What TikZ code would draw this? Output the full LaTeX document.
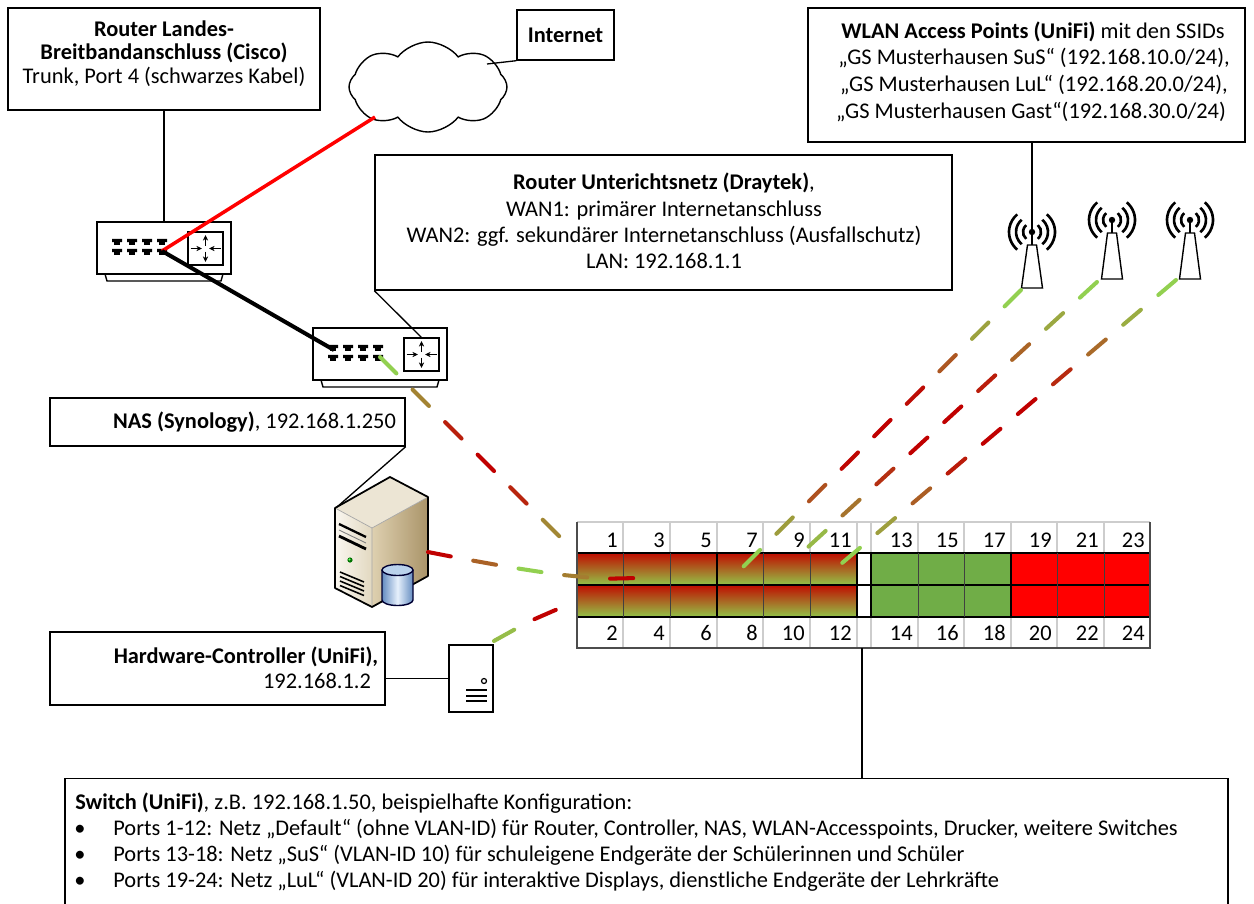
\documentclass[tikz,border=0pt]{standalone}
\usepackage{fontspec}
\setmainfont{Carlito}
\usetikzlibrary{shapes.symbols,decorations.markings,arrows.meta,calc}

\definecolor{dgreen}{RGB}{146,208,80}
\definecolor{dred}{RGB}{192,0,0}
\definecolor{swtop}{RGB}{192,12,0}
\definecolor{swbot}{RGB}{146,196,72}
\definecolor{vgreen}{RGB}{112,173,71}
\definecolor{vred}{RGB}{255,0,0}
\definecolor{gridgrey}{RGB}{205,205,205}
\definecolor{beigeL}{RGB}{250,247,240}
\definecolor{beigeM}{RGB}{226,216,192}
\definecolor{beigeT}{RGB}{236,229,212}
\definecolor{tanL}{RGB}{222,208,176}
\definecolor{tanD}{RGB}{170,148,105}
\definecolor{dbBlue}{RGB}{100,140,192}
\definecolor{dbLight}{RGB}{230,240,252}
\definecolor{dbTop}{RGB}{186,210,236}

% one dash of a colour-graded link; #1 = 0: green ends, red middle; #1 = 1: red ends, green middle
\newcommand{\gradmark}[1]{%
  \pgfmathsetmacro{\gpos}{\pgfkeysvalueof{/pgf/decoration/mark info/distance from start}/\pgfdecoratedpathlength}%
  \pgfmathsetmacro{\gdev}{abs(2*\gpos-1)}%
  \ifnum#1=0
    \pgfmathtruncatemacro{\gmix}{100*min(1,max(0,(\gdev-0.2)/0.65))}%
  \else
    \pgfmathtruncatemacro{\gmix}{100*min(1,max(0,(0.75-\gdev)/0.6))}%
  \fi
  \draw[line width=2.3pt, line cap=round, color=dgreen!\gmix!dred] (-6.6pt,0) -- (6.6pt,0);%
}

% router with eight ports and routing symbol, top-left corner at (#1,#2)
\newcommand{\routericon}[2]{%
  \begin{scope}[shift={(#1,#2)}]
    \draw[line width=0.8pt, fill=white] (0,0) rectangle (134,52);
    \draw[line width=0.8pt] (8,52) -- (10,59) -- (124,59) -- (126,52);
    \foreach \portx in {20,35,50,65}
      \foreach \porty in {20,30}
        \fill[shift={(\portx,\porty)}] (-5,-3.2) -- (5,-3.2) -- (5,0) -- (2.8,0) -- (2.8,2.8)
          -- (-2.8,2.8) -- (-2.8,0) -- (-5,0) -- cycle;
    \draw[line width=0.8pt] (91,10) rectangle (126,43);
    \draw[tip] (108.5,23.5) -- (108.5,13);
    \draw[tip] (108.5,29.5) -- (108.5,40);
    \draw[tip] (93.5,26.5) -- (105,26.5);
    \draw[tip] (123.5,26.5) -- (112,26.5);
  \end{scope}}

% access point antenna: x, y of the radiating dot, y of the mast foot
\newcommand{\antenna}[3]{%
  \begin{scope}[shift={(#1,#2)}]
    \foreach \rr in {9,16,23} {
      \draw[line width=1.5pt] (-50:\rr) arc[start angle=-50, end angle=50, radius=\rr];
      \draw[line width=1.5pt] (130:\rr) arc[start angle=130, end angle=230, radius=\rr];
    }
    \fill (0,0) circle (3.2);
    \draw[line width=0.8pt] (0,0) -- (0,13);
    \draw[line width=0.8pt, fill=white] (-4.5,13) -- (4.5,13) -- (10.5,#3-#2) -- (-10.5,#3-#2) -- cycle;
  \end{scope}}

\begin{document}
\begin{tikzpicture}[x=0.02cm, y=-0.02cm,
  font=\fontsize{12.75}{15}\selectfont,
  box/.style={draw, line width=0.8pt, rectangle, inner sep=0, fill=white},
  lbl/.style={inner sep=0, anchor=base},
  lblw/.style={inner sep=0, anchor=base west},
  num/.style={inner sep=0, anchor=base east},
  callout/.style={line width=0.75pt},
  tip/.style={-{Stealth[length=3.2pt,width=3pt]}, line width=0.7pt},
  gradlink/.style={decorate, decoration={markings,
      mark=between positions 6.6pt and -6.6pt step 26.2pt with {\gradmark{#1}}}}]

\useasboundingbox (0,0) rectangle (1254,903);

% ---------- text boxes ----------
\node[box, minimum width=6.24cm, minimum height=2.04cm] (cisco) at (164,59) {};
\node[lbl] (ciscoA) at (164,36) {\textbf{Router Landes-}};
\node[lbl] (ciscoB) at (164,59.5) {\textbf{Breitbandanschluss (Cisco)}};
\node[lbl] (ciscoC) at (164,83) {Trunk, Port 4 (schwarzes Kabel)};

\node[box, minimum width=1.94cm, minimum height=1cm] (inet) at (565.5,35) {\textbf{Internet}};

\node[box, minimum width=11.54cm, minimum height=2.7cm] (dray) at (663.5,222.5) {};
\node[lbl] (drayA) at (664,189) {\textbf{Router Unterichtsnetz (Draytek)},};
\node[lbl] (drayB) at (664,216) {WAN1: primärer Internetanschluss};
\node[lbl] (drayC) at (664,242) {WAN2: ggf. sekundärer Internetanschluss (Ausfallschutz)};
\node[lbl] (drayD) at (664,268) {LAN: 192.168.1.1};

\node[box, minimum width=8.74cm, minimum height=2.68cm] (wlan) at (1026.5,75) {};
\node[lbl] (wlanA) at (1033,38) {\textbf{WLAN Access Points (UniFi)} mit den SSIDs};
\node[lbl] (wlanB) at (1034,64) {„GS Musterhausen SuS“ (192.168.10.0/24),};
\node[lbl] (wlanC) at (1034,91) {„GS Musterhausen LuL“ (192.168.20.0/24),};
\node[lbl] (wlanD) at (1031,118) {„GS Musterhausen Gast“(192.168.30.0/24)};

\node[box, minimum width=7.1cm, minimum height=0.96cm] (nasbox) at (227.5,422) {};
\node[lbl] (nasT) at (254.5,428) {\textbf{NAS (Synology)}, 192.168.1.250};

\node[box, minimum width=6.7cm, minimum height=1.46cm] (hwbox) at (217.5,668.5) {};
\node[lbl] (hwA) at (246,663) {\textbf{Hardware-Controller (UniFi),}};
\node[lbl] (hwB) at (317,688) {192.168.1.2};

\node[box, minimum width=23.26cm, minimum height=2.9cm, anchor=north] (cfg) at (646.5,778) {};
\node[lblw] (cfg0) at (75,809) {\textbf{Switch (UniFi)}, z.B. 192.168.1.50, beispielhafte Konfiguration:};
\node[lbl] (cfgb1) at (80,835) {•};
\node[lbl] (cfgb2) at (80,861) {•};
\node[lbl] (cfgb3) at (80,887) {•};
\node[lblw] (cfg1) at (113,835) {Ports 1-12: Netz „Default“ (ohne VLAN-ID) für Router, Controller, NAS, WLAN-Accesspoints, Drucker, weitere Switches};
\node[lblw] (cfg2) at (113,861) {Ports 13-18: Netz „SuS“ (VLAN-ID 10) für schuleigene Endgeräte der Schülerinnen und Schüler};
\node[lblw] (cfg3) at (113,887) {Ports 19-24: Netz „LuL“ (VLAN-ID 20) für interaktive Displays, dienstliche Endgeräte der Lehrkräfte};

% ---------- internet cloud ----------
\node[cloud, draw, line width=0.8pt, cloud puffs=8, cloud puff arc=105, aspect=1.75,
      minimum width=3.16cm, minimum height=1.8cm] (cloud) at (428,87) {};
\coordinate (cloudR) at (487,64);
\coordinate (cloudL) at (375,117);

% ---------- routers ----------
\routericon{97}{222}
\routericon{313}{328}
\coordinate (r1top) at (164,222);
\coordinate (r1port) at (162,251);
\coordinate (r2in) at (334,350);
\coordinate (r2top) at (422,338);
\coordinate (r2out) at (380,357);

% ---------- NAS server ----------
\shade[left color=tanL, right color=tanD] (372,528) -- (428,497) -- (428,576) -- (372,607) -- cycle;
\shade[left color=beigeL, right color=beigeM] (335,508) -- (372,528) -- (372,607) -- (335,588) -- cycle;
\fill[beigeT] (335,508) -- (390,477) -- (428,497) -- (372,528) -- cycle;
\draw[line width=0.4pt, black!35] (335,508) -- (372,528) -- (428,497) (372,528) -- (372,607);
\draw[line width=1pt, line join=round] (335,508) -- (390,477) -- (428,497) -- (428,576) -- (372,607) -- (335,588) -- cycle;
\draw[line width=1.3pt] (339,524) -- (366,537);
\draw[line width=0.5pt, black!50] (339,530) -- (366,543);
\draw[line width=1.6pt] (339,536) -- (366,549);
\fill[green!45!black] (350,560) circle (2.6);
\fill[green!60!white] (349.5,559.5) circle (1.2);
\foreach \vk in {0,1,2,3}
  \draw[line width=0.9pt] (340,{572+4.5*\vk}) -- (364,{582+4.5*\vk});
% database cylinder
\shade[left color=dbBlue, right color=dbBlue, middle color=dbLight]
  (382,570) -- (382,600) arc[start angle=180, end angle=0, x radius=15.5, y radius=5.5] -- (413,570) -- cycle;
\draw[line width=0.8pt, black!80!blue] (382,570) -- (382,600) arc[start angle=180, end angle=0, x radius=15.5, y radius=5.5] -- (413,570);
\draw[line width=0.8pt, black!80!blue, fill=dbTop] (397.5,570) ellipse [x radius=15.5, y radius=5.5];
\coordinate (srvTop) at (337,507);
\coordinate (srvR) at (428,552);

% ---------- hardware controller ----------
\node[draw, line width=0.9pt, minimum width=0.88cm, minimum height=1.34cm, inner sep=0] (ctrl) at (471,678.5) {};
\draw[line width=0.7pt] (484,681) circle (2.5);
\foreach \ly in {690,696,701} \draw[line width=0.8pt] (466,\ly) -- (487,\ly);
\coordinate (ctrlO) at (494,641);

% ---------- access points ----------
\antenna{1032}{232}{288}
\antenna{1112}{220}{279}
\antenna{1190}{220}{279}
\coordinate (ap1) at (1032,232);
\coordinate (ap1b) at (1021,290);
\coordinate (ap2b) at (1097,282);
\coordinate (ap3b) at (1176,280);

% ---------- switch ----------
\shade[top color=swtop, bottom color=swbot] (577,553) rectangle (857,585);
\shade[top color=swtop, bottom color=swbot] (577,585) rectangle (857,617);
\fill[vgreen] (871,553) rectangle (1011,617);
\fill[vred] (1011,553) rectangle (1150,617);
\draw[gridgrey, line width=0.6pt] (577,522) -- (1150,522);
\foreach \xx in {623,670,717,763,810,857,871,918,964,1011,1057,1104}
  \draw[gridgrey, line width=0.6pt] (\xx,522) -- (\xx,553) (\xx,617) -- (\xx,648);
\draw[line width=0.6pt] (577,553) -- (1150,553) (577,585) -- (1150,585) (577,617) -- (1150,617);
\foreach \xx in {623,670,763,810,918,964,1057,1104}
  \draw[line width=0.5pt, black!75] (\xx,553) -- (\xx,617);
\foreach \xx in {717,857,871,1011}
  \draw[line width=0.9pt] (\xx,553) -- (\xx,617);
\draw[line width=0.8pt, black!70] (577,522) -- (577,648) -- (1150,648) -- (1150,522);
\foreach \cr/\ct/\cb in {623/1/2,670/3/4,717/5/6,763/7/8,810/9/10,857/11/12,
                         918/13/14,964/15/16,1011/17/18,1057/19/20,1104/21/22,1150/23/24} {
  \node[num] (p\ct) at (\cr-5,547) {\ct};
  \node[num] (p\cb) at (\cr-5,640) {\cb};
}
\coordinate (swB) at (862,648);
\coordinate (sw1) at (590,567);
\coordinate (sw2) at (600,601);
\coordinate (sw3) at (642,577);
\coordinate (sw7) at (741,569);
\coordinate (sw9) at (783,570);
\coordinate (sw11) at (835,569);

% ---------- plain connectors ----------
\draw[callout] (cisco.south) -- (r1top);
\draw[callout] (inet.south west) -- (cloudR);
\draw[callout] (dray.south west) -- (r2top);
\draw[callout] (nasbox.south east) -- (srvTop);
\draw[callout] (ctrl.west) -- (ctrl.west -| hwbox.east);
\draw[callout] (ap1 |- wlan.south) -- (ap1);
\draw[callout] (swB) -- (swB |- cfg.north);

% ---------- cables ----------
\draw[line width=2pt, vred] (r1port) -- (cloudL);
\draw[line width=2.3pt] (r1port) -- (r2in);

% ---------- colour-graded links to the switch ----------
\path[gradlink=0] (r2out) -- (sw1);
\path[gradlink=1] (srvR) .. controls (540,574) and (600,582) .. (sw3);
\path[gradlink=0] (ctrlO) .. controls (545,612) and (570,602) .. (sw2);
\path[gradlink=0] (ap1b) -- (sw7);
\path[gradlink=0] (ap2b) -- (sw9);
\path[gradlink=0] (ap3b) -- (sw11);

\end{tikzpicture}
\end{document}
